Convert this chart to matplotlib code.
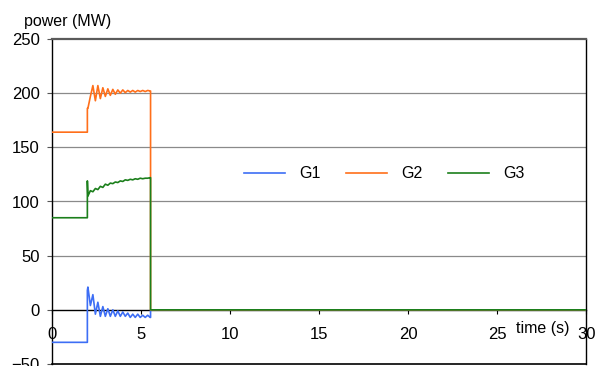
import matplotlib
matplotlib.use("Agg")
import matplotlib.pyplot as plt
from matplotlib.ticker import MultipleLocator

plt.rcParams['font.family'] = ['Liberation Sans', 'DejaVu Sans']

# Event times (s)
t_fault = 1.97
t_trip = 5.52
t_end = 30.0

# Sample instants during the post-fault swing
t_osc = [2.00, 2.14, 2.28, 2.42, 2.56, 2.70, 2.84, 2.98, 3.12, 3.26,
         3.40, 3.54, 3.68, 3.82, 3.96, 4.10, 4.24, 4.38, 4.52, 4.66,
         4.80, 4.94, 5.08, 5.22, 5.36, 5.50]

# Generator outputs (MW): pre-fault level, value right after the step,
# swing samples, and level after tripping
g1_pre, g1_jump, g1_post = -30, 18, 0
g1_osc = [21, 4, 14, -4, 7, -6, 3, -6, 1, -6,
          0, -6, -1, -6, -2, -6, -3, -7, -4, -7,
          -4, -7, -5, -7, -5, -7]

g2_pre, g2_jump, g2_post = 164, 186, 0
g2_osc = [186, 197, 207, 193, 207, 195, 205, 197, 204, 198,
          203.5, 199, 203, 200, 203, 200.5, 202.5, 201, 202.5, 201,
          202.5, 201.5, 202.5, 201.5, 202.5, 202]

g3_pre, g3_jump, g3_post = 85, 119, 0
g3_osc = [105, 110, 109, 112, 111, 114, 113, 116, 115, 117,
          116.5, 118, 117.5, 119, 118.5, 120, 119.5, 120.5, 120, 121,
          120.5, 121.5, 121, 121.5, 121.5, 122]

names = ["G1", "G2", "G3"]
colors = ["#3D6EF5", "#FF6F1A", "#1B7F1B"]


def build(pre, jump, osc, post):
    t = [0.0, t_fault, t_fault] + t_osc + [t_trip, t_trip, t_end]
    y = [pre, pre, jump] + osc + [osc[-1], post, post]
    return t, y


series = [build(g1_pre, g1_jump, g1_osc, g1_post),
          build(g2_pre, g2_jump, g2_osc, g2_post),
          build(g3_pre, g3_jump, g3_osc, g3_post)]

fig = plt.figure(figsize=(6.08, 3.66), dpi=100)
ax = fig.add_axes([52.3 / 608, 1 - 364 / 366, (586.3 - 52.3) / 608, (364 - 39) / 366])

ax.set_xlim(0, 30)
ax.set_ylim(-50, 250)

for (t, y), name, c in zip(series, names, colors):
    ax.plot(t, y, color=c, lw=1.2, label=name, zorder=3)

# Gridlines
for v in [50, 100, 150, 200]:
    ax.axhline(v, color="#8a8a8a", lw=0.9, zorder=1)

# Frame
ax.spines['left'].set_color('black')
ax.spines['left'].set_linewidth(1.0)
ax.spines['right'].set_color('black')
ax.spines['right'].set_linewidth(1.0)
ax.spines['top'].set_color('#5a5a5a')
ax.spines['top'].set_linewidth(1.6)
ax.spines['bottom'].set_position(('data', 0))
ax.spines['bottom'].set_color('black')
ax.spines['bottom'].set_linewidth(1.0)
ax.spines['bottom'].set_zorder(2)
ax.plot([0, 1], [0, 0], transform=ax.transAxes, color='black', lw=1.2, clip_on=False, zorder=2)

ax.xaxis.set_major_locator(MultipleLocator(5))
ax.yaxis.set_major_locator(MultipleLocator(50))
ax.tick_params(axis='x', direction='out', length=3, width=0.8, pad=9.5, labelsize=12)
ax.tick_params(axis='y', direction='out', length=3.6, width=0.8, pad=5.5, labelsize=12,
               color='#555555')

fig.text(24 / 608, 1 - 21.5 / 366, "power (MW)", fontsize=11.5, ha='left', va='center')
fig.text(543 / 608, 1 - 328 / 366, "time (s)", fontsize=11.5, ha='center', va='center')

fig.legend(loc='center', bbox_to_anchor=(384 / 608, 1 - 174 / 366), ncol=3, frameon=False,
           fontsize=11.5, handlelength=2.6, handletextpad=0.85, columnspacing=1.6)

fig.savefig("out.png", dpi=100)
